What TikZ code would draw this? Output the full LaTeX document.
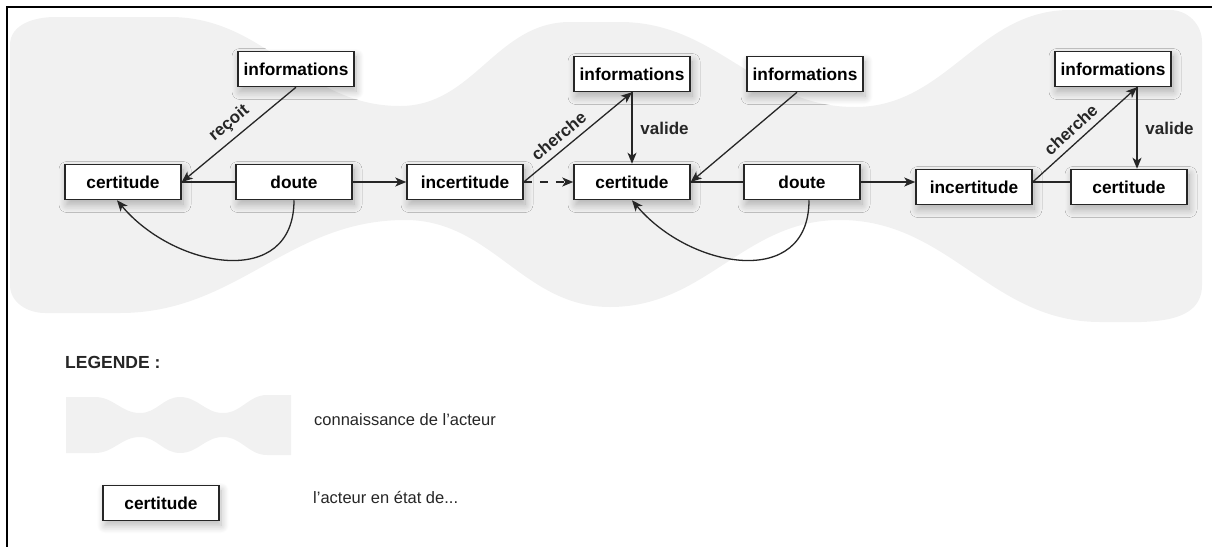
\documentclass[tikz,border=0pt]{standalone}
\usepackage{fontspec}
\setmainfont{Liberation Sans}
\setsansfont{Liberation Sans}
\usepackage{xcolor}
\usepackage{tikz}
\usetikzlibrary{arrows.meta, positioning, calc, shadows.blur}
\definecolor{trait}  {HTML}{262626}
\definecolor{savoir} {HTML}{F1F1F1}

\begin{document}
\begin{tikzpicture}[
  x=1pt, y=1pt,
  % One unit is one pixel of the original, so box sizes read straight off it.
  etat/.style={draw=trait, fill=white, line width=1.5pt, minimum width=116pt,
               minimum height=35pt, inner sep=0pt,
               font=\fontsize{17.3}{20}\selectfont\bfseries,
               blur shadow={shadow xshift=2pt, shadow yshift=-5pt, shadow blur steps=12,
                            shadow blur radius=8pt, shadow opacity=28}},
  fleche/.style={-{Stealth[length=11pt, width=9pt, inset=3pt]}, line width=1.3pt, draw=trait},
  lien/.style={line width=1.3pt, draw=trait},
  etiq/.style={font=\fontsize{17}{20}\selectfont\bfseries, text=trait},
  legtxt/.style={font=\fontsize{16.5}{20}\selectfont, text=trait, anchor=west, inner sep=0pt}
]
\useasboundingbox (0,0) rectangle (1212,-547);

% --- Knowledge of the actor (grey band) ---
\fill[savoir] (10,-45) to[out=90,in=180] (55,-17) -- (170,-17)
  to[out=0,in=180] (400,-106) to[out=0,in=180] (570,-22) -- (620,-22)
  to[out=0,in=180] (855,-107) to[out=0,in=180] (1070,-10) -- (1170,-10)
  to[out=0,in=90] (1202,-42) -- (1202,-285)
  to[out=-90,in=0] (1100,-322) to[out=180,in=0] (840,-220)
  to[out=180,in=0] (610,-307) to[out=180,in=0] (405,-220)
  to[out=180,in=0] (120,-313) -- (45,-313)
  to[out=180,in=-90] (10,-285) -- cycle;

% --- Frame ---
\draw[line width=2.5pt] (1212,-7) -- (7,-7) -- (7,-547);

% --- First cycle ---
\node[etat] (cert1)   at (123,-182)  {certitude};
\node[etat] (doute1)  at (294,-182)  {doute};
\node[etat] (info1)   at (296,-69)   {informations};
\node[etat] (incert1) at (465,-182)  {incertitude};

% --- Second cycle ---
\node[etat] (info2)   at (632,-74)   {informations};
\node[etat] (cert2)   at (632,-182)  {certitude};
\node[etat] (info3)   at (805,-74)   {informations};
\node[etat] (doute2)  at (802,-182)  {doute};

% --- Third cycle ---
\node[etat] (incert2) at (974,-187)  {incertitude};
\node[etat] (cert3)   at (1129,-187) {certitude};
\node[etat] (info4)   at (1113,-69)  {informations};

% --- Links, first cycle ---
\draw[lien] (doute1) -- (cert1);
\draw[fleche] (info1.south) -- (cert1.east)
  node[etiq, pos=0.5, sloped, above=3pt] {reçoit};
\draw[fleche] (doute1.south) to[out=-90, in=-50, looseness=1.3] ([xshift=-6pt]cert1.south);
\draw[fleche] (doute1) -- (incert1);

% --- Links, second cycle ---
\draw[fleche, dash pattern=on 8pt off 8pt] (incert1) -- (cert2);
\draw[fleche] (incert1.east) -- (info2.south)
  node[etiq, pos=0.4, sloped, above=3pt] {cherche};
\draw[fleche] (info2) -- (cert2) node[etiq, midway, right=4.5pt] {valide};
\draw[lien] (doute2) -- (cert2);
\draw[fleche] ([xshift=-8pt]info3.south) -- (cert2.east);
\draw[fleche] ([xshift=7pt]doute2.south) to[out=-90, in=-50, looseness=1.3] (cert2.south);
\draw[fleche] (doute2.east) -- (doute2.east -| incert2.west);

% --- Links, third cycle ---
\draw[lien] ([yshift=5pt]incert2.east) -- ([yshift=5pt]cert3.west);
\draw[fleche] ([yshift=5pt]incert2.east) -- ([xshift=24pt]info4.south)
  node[etiq, pos=0.45, sloped, above=3pt] {cherche};
\draw[fleche] ([xshift=24pt]info4.south) -- ([xshift=8pt]cert3.north)
  node[etiq, midway, right=4.5pt] {valide};

% --- Legend ---
\node[font=\fontsize{17.5}{20}\selectfont\bfseries, text=trait, anchor=west, inner sep=0pt]
  (legende) at (65,-362) {LEGENDE :};
\fill[savoir] (66,-397) -- (95,-397) to[out=0,in=180] (140,-413)
  to[out=0,in=180] (180,-397) to[out=0,in=180] (223,-413)
  to[out=0,in=180] (267,-395) -- (291,-395) -- (291,-455) -- (267,-455)
  to[out=180,in=0] (223,-437) to[out=180,in=0] (180,-453)
  to[out=180,in=0] (140,-437) to[out=180,in=0] (95,-453) -- (66,-453) -- cycle;
\node[legtxt] (legsavoir) at (314,-420) {connaissance de l’acteur};
\node[etat] (legetat) at (161,-503) {certitude};
\node[legtxt] (legtexte) at (313,-497) {l’acteur en état de...};

\end{tikzpicture}
\end{document}
